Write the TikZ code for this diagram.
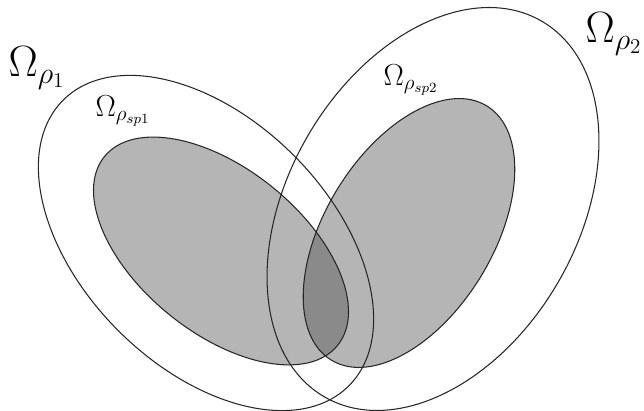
\documentclass[tikz,border=0pt]{standalone}
\usepackage{amsmath}
\usepackage{tikz}

\tikzset{
    vora/.style={line width=0.6pt, black!85},
    ombra/.style={fill=black!29},
    solapa/.style={fill=black!46},
    etiqgran/.style={font=\fontsize{23}{28}\selectfont},
    etiqpetita/.style={font=\fontsize{16.5}{20}\selectfont}
}

\begin{document}
\begin{tikzpicture}[x=0.2mm, y=0.2mm]

\useasboundingbox (0,0) rectangle (644,411);

% Centres
\coordinate (c1) at (206,168);
\coordinate (c2) at (433,202);
\coordinate (s1) at (221,160);
\coordinate (s2) at (409,178);

% Regions ombrejades
\fill[ombra] (s1) ellipse [x radius=150, y radius=82, rotate=-39];
\fill[ombra] (s2) ellipse [x radius=149, y radius=84, rotate=58.5];

% Interseccio
\begin{scope}
    \clip (s1) ellipse [x radius=150, y radius=82, rotate=-39];
    \fill[solapa] (s2) ellipse [x radius=149, y radius=84, rotate=58.5];
\end{scope}

% Vores interiors
\draw[vora] (s1) ellipse [x radius=150, y radius=82, rotate=-39];
\draw[vora] (s2) ellipse [x radius=149, y radius=84, rotate=58.5];

% Vores exteriors
\draw[vora] (c1) ellipse [x radius=202, y radius=124, rotate=-45];
\draw[vora] (c2) ellipse [x radius=217, y radius=145, rotate=60];

% Etiquetes
\node[etiqgran] (om1) at (37,343) {$\Omega_{\rho_1}$};
\node[etiqgran] (om2) at (614,377) {$\Omega_{\rho_2}$};
\node[etiqpetita] (osp1) at (123,300) {$\Omega_{\rho_{sp1}}$};
\node[etiqpetita] (osp2) at (411,331) {$\Omega_{\rho_{sp2}}$};

\end{tikzpicture}
\end{document}
